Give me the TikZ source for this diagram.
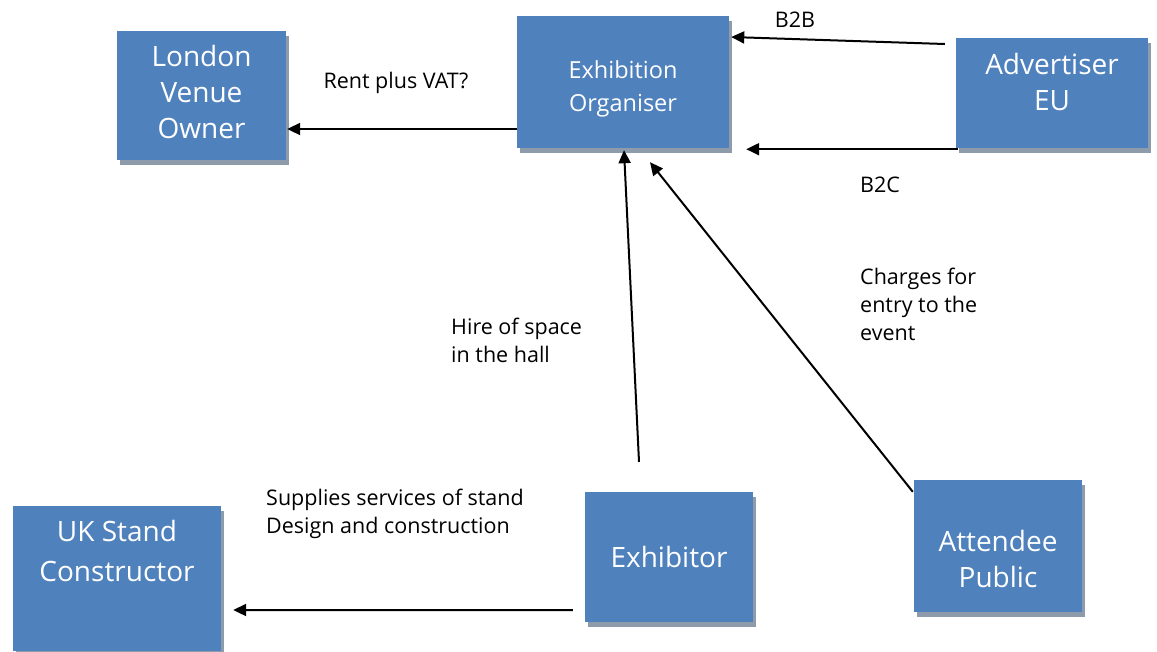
\documentclass[tikz,border=0pt]{standalone}
\usepackage{fontspec}
\setmainfont{Open Sans}
\usetikzlibrary{arrows.meta,shadows}
\definecolor{boxblue}{HTML}{4F81BD}
\definecolor{shadowgray}{HTML}{8E9BAA}
\tikzset{
  party/.style={rectangle, fill=boxblue, text=white, align=center, inner sep=0pt,
    drop shadow={shadow xshift=3pt, shadow yshift=-5pt, fill=shadowgray, opacity=1},
    font=\fontsize{28}{36}\selectfont},
  flow/.style={line width=2pt, -{Triangle[length=13pt,width=12pt]}},
  note/.style={align=left, inner sep=0pt, font=\fontsize{21.5}{28}\selectfont}
}
\begin{document}
\begin{tikzpicture}[x=1pt,y=1pt]
  \useasboundingbox (0,0) rectangle (1157,-651);
  \node[party, minimum width=169pt, minimum height=129pt, text depth=7pt] (lon) at (201.5,-95.5) {London\\Venue\\Owner};
  \node[party, minimum width=212pt, minimum height=132pt, text height=64pt, font=\fontsize{23.5}{33}\selectfont] (org) at (623,-82) {Exhibition\\Organiser};
  \node[party, minimum width=192pt, minimum height=110pt, text depth=23pt] (adv) at (1052,-93) {Advertiser\\EU};
  \node[party, minimum width=208pt, minimum height=145pt, text depth=55pt, font=\fontsize{28}{40}\selectfont] (uk) at (117,-578.5) {UK Stand\\Constructor};
  \node[party, minimum width=168pt, minimum height=130pt] (exh) at (669,-557) {Exhibitor};
  \node[party, minimum width=168pt, minimum height=132pt, text height=84pt] (att) at (998,-546) {Attendee\\Public};

  % money flows
  \draw[flow] ([yshift=-47pt]org.west) -- ([xshift=1pt,yshift=-33.5pt]lon.east);
  \draw[flow] ([xshift=-11pt,yshift=49pt]adv.west) -- ([xshift=2pt,yshift=45pt]org.east);
  \draw[flow] ([xshift=2pt,yshift=-1pt]adv.south west) -- ([xshift=17pt,yshift=-1pt]org.south east);
  \draw[flow] ([xshift=-30pt,yshift=30pt]exh.north) -- ([xshift=1pt,yshift=-2pt]org.south);
  \draw[flow] ([xshift=-1pt,yshift=-12pt]att.north west) -- ([xshift=27pt,yshift=-14pt]org.south);
  \draw[flow] ([xshift=-12pt,yshift=12pt]exh.south west) -- ([xshift=12pt,yshift=-31.5pt]uk.east);

  \node[note] (rent) at (396,-83) {Rent plus VAT?};
  \node[note] (btob) at (795,-20) {B2B};
  \node[note] (btoc) at (880,-185) {B2C};
  \node[note, anchor=north west] (hire) at (451,-318) {Hire of space\\in the hall};
  \node[note, anchor=north west] (entry) at (860,-268) {Charges for\\entry to the\\event};
  \node[note, anchor=north west] (supply) at (266,-489) {Supplies services of stand\\Design and construction};
\end{tikzpicture}
\end{document}
